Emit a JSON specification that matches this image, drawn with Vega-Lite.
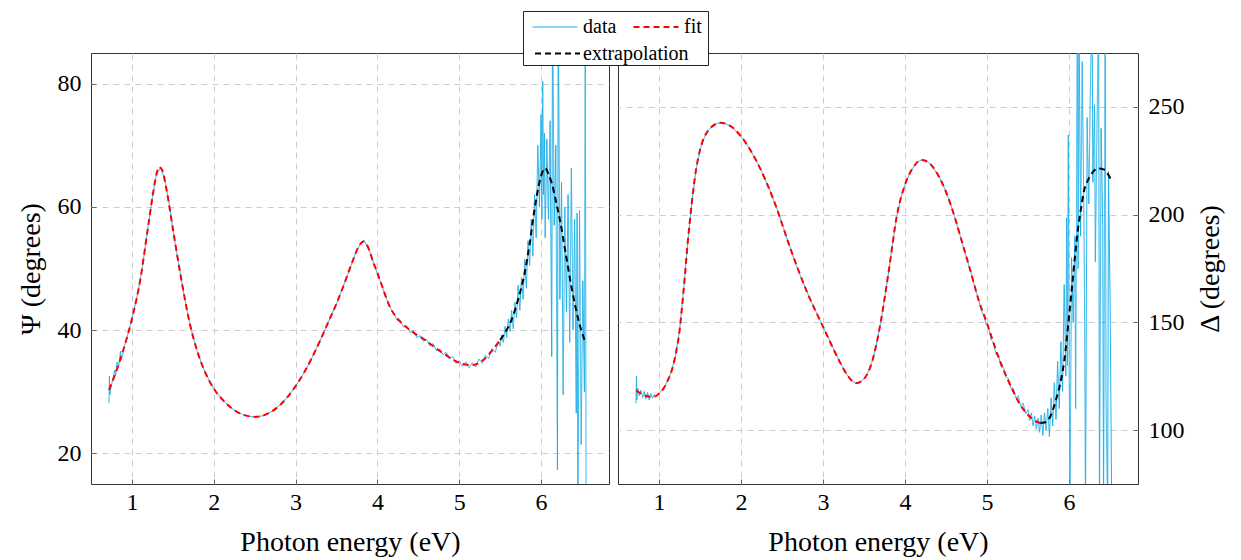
{
  "$schema": "https://vega.github.io/schema/vega-lite/v6.json",
  "padding": {"left": 16, "top": 10, "right": 10, "bottom": 5},
  "spacing": 7,
  "datasets": {
    "psi_data": [
      {"x":0.72,"y":28.1},{"x":0.725,"y":32.5},{"x":0.73,"y":29.5},{"x":0.75,"y":31.0},{"x":0.77,"y":32.3},{"x":0.79,"y":33.5},{"x":0.8,"y":32.6},{"x":0.82,"y":34.8},{"x":0.84,"y":34.2},{"x":0.86,"y":36.6},{"x":0.87,"y":35.2},{"x":0.89,"y":36.2},{"x":0.9,"y":37.0},{"x":0.95,"y":39.3},
      {"x":1.0,"y":41.8},{"x":1.05,"y":44.7},{"x":1.1,"y":48.0},{"x":1.15,"y":52.3},{"x":1.2,"y":57.0},{"x":1.25,"y":61.5},{"x":1.3,"y":65.3},{"x":1.35,"y":66.4},{"x":1.4,"y":64.5},{"x":1.45,"y":61.0},{"x":1.5,"y":56.5},{"x":1.55,"y":52.3},{"x":1.6,"y":48.5},{"x":1.65,"y":44.8},{"x":1.7,"y":41.5},{"x":1.75,"y":38.8},{"x":1.8,"y":36.5},{"x":1.85,"y":34.6},{"x":1.9,"y":33.0},{"x":1.95,"y":31.7},
      {"x":2.0,"y":30.5},{"x":2.05,"y":29.6},{"x":2.1,"y":28.8},{"x":2.15,"y":28.1},{"x":2.2,"y":27.5},{"x":2.25,"y":27.0},{"x":2.3,"y":26.6},{"x":2.35,"y":26.3},{"x":2.4,"y":26.1},{"x":2.45,"y":25.95},{"x":2.5,"y":25.9},{"x":2.55,"y":25.95},{"x":2.6,"y":26.1},{"x":2.65,"y":26.4},{"x":2.7,"y":26.7},{"x":2.75,"y":27.2},{"x":2.8,"y":27.7},{"x":2.85,"y":28.4},{"x":2.9,"y":29.1},{"x":2.95,"y":30.0},
      {"x":3.0,"y":30.9},{"x":3.05,"y":31.9},{"x":3.1,"y":33.0},{"x":3.15,"y":34.2},{"x":3.2,"y":35.5},{"x":3.25,"y":36.9},{"x":3.3,"y":38.3},{"x":3.35,"y":39.8},{"x":3.4,"y":41.3},{"x":3.45,"y":42.8},{"x":3.5,"y":44.3},{"x":3.55,"y":46.0},{"x":3.6,"y":47.7},{"x":3.65,"y":49.5},{"x":3.7,"y":51.3},{"x":3.75,"y":53.0},{"x":3.8,"y":54.2},{"x":3.83,"y":54.6},{"x":3.85,"y":54.2},{"x":3.9,"y":53.0},{"x":3.95,"y":51.0},
      {"x":4.0,"y":49.2},{"x":4.05,"y":47.4},{"x":4.1,"y":45.5},{"x":4.15,"y":43.8},{"x":4.2,"y":42.7},{"x":4.24,"y":41.6},{"x":4.28,"y":41.5},{"x":4.32,"y":40.5},{"x":4.36,"y":40.7},{"x":4.4,"y":39.6},{"x":4.44,"y":39.9},{"x":4.48,"y":38.8},{"x":4.52,"y":39.1},{"x":4.56,"y":38.2},{"x":4.6,"y":38.5},{"x":4.64,"y":37.5},{"x":4.68,"y":37.8},{"x":4.72,"y":36.7},{"x":4.76,"y":36.9},{"x":4.8,"y":36.0},{"x":4.84,"y":36.4},{"x":4.88,"y":35.3},{"x":4.92,"y":35.7},{"x":4.96,"y":34.6},
      {"x":5.0,"y":35.0},{"x":5.04,"y":34.1},{"x":5.08,"y":34.8},{"x":5.12,"y":33.9},{"x":5.16,"y":34.7},{"x":5.2,"y":34.0},{"x":5.24,"y":35.3},{"x":5.28,"y":34.6},{"x":5.32,"y":35.9},{"x":5.36,"y":35.4},{"x":5.4,"y":37.0},{"x":5.44,"y":36.4},{"x":5.48,"y":38.2},
      {"x":5.5,"y":37.4},{"x":5.52,"y":39.2},{"x":5.54,"y":38.0},{"x":5.56,"y":40.6},{"x":5.58,"y":38.8},{"x":5.6,"y":41.8},{"x":5.62,"y":39.8},{"x":5.64,"y":43.2},{"x":5.66,"y":40.2},{"x":5.68,"y":44.5},{"x":5.7,"y":42.0},{"x":5.72,"y":47.3},{"x":5.74,"y":43.2},{"x":5.76,"y":48.5},{"x":5.78,"y":45.0},{"x":5.8,"y":51.5},{"x":5.82,"y":46.8},{"x":5.84,"y":54.5},{"x":5.86,"y":50.5},{"x":5.88,"y":58.0},{"x":5.9,"y":52.0},{"x":5.92,"y":62.0},{"x":5.94,"y":55.0},{"x":5.96,"y":70.0},{"x":5.98,"y":60.0},
      {"x":6.0,"y":75.0},{"x":6.01,"y":58.0},{"x":6.02,"y":80.4},{"x":6.03,"y":62.0},{"x":6.04,"y":72.0},{"x":6.05,"y":55.0},{"x":6.07,"y":71.0},{"x":6.09,"y":58.0},{"x":6.11,"y":74.0},{"x":6.13,"y":35.7},{"x":6.14,"y":95.0},{"x":6.16,"y":57.0},{"x":6.18,"y":70.0},{"x":6.2,"y":17.3},{"x":6.21,"y":95.0},{"x":6.23,"y":45.0},{"x":6.25,"y":64.0},{"x":6.27,"y":29.5},{"x":6.29,"y":60.0},{"x":6.31,"y":43.0},{"x":6.33,"y":62.0},{"x":6.35,"y":38.0},{"x":6.37,"y":66.3},{"x":6.39,"y":40.0},{"x":6.41,"y":58.0},{"x":6.43,"y":26.5},{"x":6.44,"y":59.0},{"x":6.45,"y":10.0},{"x":6.47,"y":59.4},{"x":6.49,"y":21.4},{"x":6.51,"y":48.0},{"x":6.53,"y":30.0},{"x":6.54,"y":95.0},{"x":6.55,"y":10.0}
    ],
    "psi_fit": [
      {"x":0.72,"y":30.3},{"x":0.8,"y":33.0},{"x":0.9,"y":37.0},{"x":1.0,"y":41.8},{"x":1.1,"y":48.0},{"x":1.2,"y":57.0},{"x":1.25,"y":61.5},{"x":1.3,"y":65.3},{"x":1.33,"y":66.5},{"x":1.37,"y":66.0},{"x":1.42,"y":63.0},{"x":1.5,"y":56.5},{"x":1.6,"y":48.5},{"x":1.7,"y":41.5},{"x":1.8,"y":36.5},{"x":1.9,"y":33.0},
      {"x":2.0,"y":30.5},{"x":2.1,"y":28.8},{"x":2.2,"y":27.5},{"x":2.3,"y":26.6},{"x":2.4,"y":26.1},{"x":2.5,"y":25.9},{"x":2.6,"y":26.1},{"x":2.7,"y":26.7},{"x":2.8,"y":27.7},{"x":2.9,"y":29.1},{"x":3.0,"y":30.9},{"x":3.1,"y":33.0},{"x":3.2,"y":35.5},{"x":3.3,"y":38.3},{"x":3.4,"y":41.3},{"x":3.5,"y":44.3},{"x":3.6,"y":47.7},{"x":3.7,"y":51.3},{"x":3.78,"y":53.8},{"x":3.83,"y":54.4},{"x":3.88,"y":53.6},{"x":3.95,"y":51.0},
      {"x":4.03,"y":48.2},{"x":4.1,"y":45.5},{"x":4.17,"y":43.3},{"x":4.25,"y":41.8},{"x":4.34,"y":40.6},{"x":4.45,"y":39.5},{"x":4.58,"y":38.4},{"x":4.7,"y":37.2},{"x":4.83,"y":36.0},{"x":4.95,"y":35.0},{"x":5.07,"y":34.4},{"x":5.15,"y":34.3},{"x":5.23,"y":34.6},{"x":5.3,"y":35.2},{"x":5.39,"y":36.5},{"x":5.5,"y":38.4}
    ],
    "psi_ext": [
      {"x":5.5,"y":38.4},{"x":5.57,"y":39.8},{"x":5.64,"y":41.7},{"x":5.72,"y":45.0},{"x":5.8,"y":49.3},{"x":5.86,"y":54.0},{"x":5.92,"y":59.6},{"x":5.98,"y":64.0},{"x":6.05,"y":66.3},{"x":6.1,"y":65.0},{"x":6.13,"y":63.9},{"x":6.18,"y":61.0},{"x":6.23,"y":57.9},{"x":6.3,"y":52.5},{"x":6.37,"y":47.1},{"x":6.45,"y":42.0},{"x":6.54,"y":38.0}
    ],
    "delta_data": [
      {"x":0.72,"y":112.5},{"x":0.725,"y":125.0},{"x":0.73,"y":114.0},{"x":0.74,"y":119.5},{"x":0.76,"y":116.0},{"x":0.78,"y":118.5},{"x":0.8,"y":115.0},{"x":0.82,"y":118.0},{"x":0.84,"y":114.5},{"x":0.86,"y":117.5},{"x":0.88,"y":114.0},{"x":0.9,"y":117.0},{"x":0.92,"y":114.8},{"x":0.94,"y":116.5},{"x":0.96,"y":115.8},
      {"x":1.0,"y":117.0},{"x":1.05,"y":119.0},{"x":1.1,"y":122.5},{"x":1.15,"y":127.0},{"x":1.2,"y":134.5},{"x":1.25,"y":146.0},{"x":1.3,"y":165.0},{"x":1.35,"y":187.0},{"x":1.4,"y":205.5},{"x":1.45,"y":220.5},{"x":1.5,"y":230.0},{"x":1.55,"y":235.5},{"x":1.6,"y":239.0},{"x":1.65,"y":241.0},{"x":1.7,"y":242.2},{"x":1.75,"y":242.6},{"x":1.8,"y":242.3},{"x":1.85,"y":241.5},{"x":1.9,"y":240.3},{"x":1.95,"y":238.3},
      {"x":2.0,"y":236.3},{"x":2.05,"y":233.8},{"x":2.1,"y":230.8},{"x":2.15,"y":227.5},{"x":2.2,"y":224.0},{"x":2.25,"y":220.0},{"x":2.3,"y":215.8},{"x":2.35,"y":211.5},{"x":2.4,"y":206.5},{"x":2.45,"y":201.5},{"x":2.5,"y":196.0},{"x":2.55,"y":190.0},{"x":2.6,"y":184.5},{"x":2.65,"y":179.0},{"x":2.7,"y":174.0},{"x":2.75,"y":169.0},{"x":2.8,"y":164.5},{"x":2.85,"y":160.0},{"x":2.9,"y":156.0},{"x":2.95,"y":152.0},
      {"x":3.0,"y":148.0},{"x":3.05,"y":144.0},{"x":3.1,"y":140.0},{"x":3.15,"y":136.0},{"x":3.2,"y":132.0},{"x":3.25,"y":128.5},{"x":3.3,"y":125.3},{"x":3.35,"y":123.0},{"x":3.4,"y":121.8},{"x":3.45,"y":122.0},{"x":3.5,"y":123.8},{"x":3.55,"y":127.0},{"x":3.6,"y":132.0},{"x":3.65,"y":139.5},{"x":3.7,"y":149.5},{"x":3.75,"y":161.0},{"x":3.8,"y":173.5},{"x":3.85,"y":187.0},{"x":3.9,"y":199.5},{"x":3.95,"y":208.0},
      {"x":4.0,"y":214.0},{"x":4.05,"y":218.5},{"x":4.1,"y":222.0},{"x":4.15,"y":224.3},{"x":4.2,"y":225.4},{"x":4.25,"y":225.3},{"x":4.3,"y":223.8},{"x":4.35,"y":221.3},{"x":4.4,"y":218.5},{"x":4.45,"y":215.0},{"x":4.5,"y":210.5},{"x":4.55,"y":205.5},{"x":4.6,"y":199.5},{"x":4.65,"y":193.0},{"x":4.7,"y":186.5},{"x":4.75,"y":180.0},{"x":4.8,"y":173.5},{"x":4.85,"y":166.5},{"x":4.9,"y":160.0},
      {"x":4.93,"y":155.5},{"x":4.96,"y":153.0},{"x":4.99,"y":149.0},{"x":5.02,"y":147.5},{"x":5.05,"y":142.0},{"x":5.08,"y":140.5},{"x":5.11,"y":135.0},{"x":5.14,"y":134.5},{"x":5.17,"y":129.5},{"x":5.2,"y":129.0},{"x":5.23,"y":124.5},{"x":5.26,"y":124.0},{"x":5.29,"y":119.5},{"x":5.32,"y":119.5},{"x":5.35,"y":115.0},{"x":5.38,"y":116.0},{"x":5.41,"y":111.0},{"x":5.44,"y":112.5},{"x":5.47,"y":107.5},
      {"x":5.5,"y":109.5},{"x":5.52,"y":104.5},{"x":5.54,"y":108.0},{"x":5.56,"y":102.0},{"x":5.58,"y":106.5},{"x":5.6,"y":100.5},{"x":5.62,"y":105.5},{"x":5.64,"y":99.0},{"x":5.66,"y":107.0},{"x":5.68,"y":97.5},{"x":5.7,"y":108.0},{"x":5.72,"y":100.0},{"x":5.74,"y":110.0},{"x":5.76,"y":97.0},{"x":5.78,"y":115.0},{"x":5.8,"y":102.0},{"x":5.82,"y":122.0},{"x":5.84,"y":105.0},{"x":5.86,"y":132.0},{"x":5.88,"y":110.0},{"x":5.9,"y":141.0},{"x":5.92,"y":118.0},{"x":5.94,"y":167.5},{"x":5.96,"y":125.0},{"x":5.97,"y":198.5},{"x":5.98,"y":130.0},{"x":5.99,"y":237.0},
      {"x":6.0,"y":140.0},{"x":6.01,"y":60.0},{"x":6.03,"y":180.0},{"x":6.05,"y":150.0},{"x":6.07,"y":190.0},{"x":6.08,"y":110.0},{"x":6.1,"y":300.0},{"x":6.11,"y":175.0},{"x":6.12,"y":300.0},{"x":6.14,"y":190.0},{"x":6.16,"y":271.0},{"x":6.18,"y":200.0},{"x":6.19,"y":150.0},{"x":6.2,"y":60.0},{"x":6.22,"y":245.0},{"x":6.24,"y":205.0},{"x":6.26,"y":260.0},{"x":6.28,"y":300.0},{"x":6.29,"y":215.0},{"x":6.31,"y":251.0},{"x":6.32,"y":178.0},{"x":6.34,"y":240.0},{"x":6.36,"y":300.0},{"x":6.37,"y":60.0},{"x":6.39,"y":240.0},{"x":6.41,"y":195.0},{"x":6.42,"y":60.0},{"x":6.44,"y":300.0},{"x":6.45,"y":116.0},{"x":6.47,"y":60.0},{"x":6.48,"y":220.0},{"x":6.5,"y":160.0},{"x":6.52,"y":60.0}
    ],
    "delta_fit": [
      {"x":0.72,"y":118.5},{"x":0.8,"y":116.5},{"x":0.9,"y":115.5},{"x":0.95,"y":115.6},{"x":1.0,"y":117.0},{"x":1.05,"y":119.0},{"x":1.1,"y":122.5},{"x":1.15,"y":127.0},{"x":1.2,"y":134.5},{"x":1.25,"y":146.0},{"x":1.3,"y":165.0},{"x":1.35,"y":187.0},{"x":1.4,"y":205.5},{"x":1.45,"y":220.5},{"x":1.5,"y":230.0},{"x":1.6,"y":239.0},{"x":1.75,"y":242.6},{"x":1.9,"y":240.3},
      {"x":2.0,"y":236.3},{"x":2.2,"y":224.0},{"x":2.4,"y":206.5},{"x":2.6,"y":184.5},{"x":2.8,"y":164.5},{"x":3.0,"y":148.0},{"x":3.2,"y":132.0},{"x":3.3,"y":125.3},{"x":3.4,"y":121.8},{"x":3.5,"y":123.8},{"x":3.6,"y":132.0},{"x":3.7,"y":149.5},{"x":3.8,"y":173.5},{"x":3.9,"y":199.5},
      {"x":4.0,"y":214.0},{"x":4.1,"y":222.0},{"x":4.2,"y":225.4},{"x":4.3,"y":223.8},{"x":4.4,"y":218.5},{"x":4.5,"y":210.5},{"x":4.6,"y":199.5},{"x":4.7,"y":186.5},{"x":4.8,"y":173.5},{"x":4.9,"y":160.0},{"x":5.0,"y":149.5},{"x":5.1,"y":138.0},{"x":5.2,"y":128.0},{"x":5.3,"y":119.5},{"x":5.4,"y":112.0},{"x":5.5,"y":107.0},{"x":5.6,"y":104.0},{"x":5.65,"y":103.3}
    ],
    "delta_ext": [
      {"x":5.65,"y":103.3},{"x":5.7,"y":103.5},{"x":5.76,"y":105.6},{"x":5.84,"y":114.0},{"x":5.9,"y":123.0},{"x":5.94,"y":131.9},{"x":6.0,"y":153.0},{"x":6.03,"y":164.4},{"x":6.07,"y":180.0},{"x":6.11,"y":193.8},{"x":6.15,"y":204.0},{"x":6.18,"y":210.8},{"x":6.23,"y":216.0},{"x":6.28,"y":219.3},{"x":6.35,"y":221.4},{"x":6.42,"y":221.0},{"x":6.45,"y":220.1},{"x":6.52,"y":215.5}
    ]
  },
  "hconcat": [
    {
      "width": 518,
      "height": 431,
      "encoding": {
        "x": {"field": "x", "type": "quantitative", "scale": {"domain": [0.5, 6.83], "nice": false, "zero": false}, "axis": {"values": [1,2,3,4,5,6], "title": "Photon energy (eV)"}},
        "y": {"field": "y", "type": "quantitative", "scale": {"domain": [15, 85], "nice": false, "zero": false}, "axis": {"values": [20,40,60,80], "title": "Ψ (degrees)", "orient": "left"}}
      },
      "layer": [
        {"data": {"name": "psi_data"}, "mark": {"type": "line", "clip": true, "strokeWidth": 1},
         "encoding": {
           "color": {"datum": "data", "type": "nominal",
             "scale": {"domain": ["data","fit","extrapolation"], "range": ["#1aaee8","#ff0000","#000000"]},
             "legend": {"title": " ", "titleOrient": "bottom", "titleFontSize": 20, "titlePadding": 2, "values": ["data","fit"], "direction": "horizontal",
               "orient": "none", "legendX": 432, "legendY": -42, "padding": 6, "fillColor": "#ffffff", "strokeColor": "#222222",
               "symbolOffset": 16, "labelOffset": 18, "columnPadding": 12,
               "symbolDash": {"expr": "datum.value === 'fit' ? [6,4] : [1,0]"},
               "symbolStrokeWidth": {"expr": "datum.value === 'fit' ? 2 : 1.2"}}},
           "strokeDash": {"datum": "data", "type": "nominal",
             "scale": {"domain": ["extrapolation","data","fit"], "range": [[6,4],[1,0],[6,4]]},
             "legend": {"title": null, "values": ["extrapolation"], "direction": "horizontal",
               "orient": "none", "legendX": 438, "legendY": -12, "padding": 0,
               "symbolOffset": 16, "labelOffset": 13, "symbolStrokeWidth": 2}}
         }},
        {"data": {"name": "psi_fit"}, "mark": {"type": "line", "interpolate": "monotone", "strokeWidth": 2},
         "encoding": {
           "color": {"datum": "fit", "type": "nominal", "scale": {"domain": ["data","fit","extrapolation"]}},
           "strokeDash": {"datum": "fit", "type": "nominal", "scale": {"domain": ["extrapolation","data","fit"]}}
         }},
        {"data": {"name": "psi_ext"}, "mark": {"type": "line", "interpolate": "monotone", "strokeWidth": 2},
         "encoding": {
           "color": {"datum": "extrapolation", "type": "nominal", "scale": {"domain": ["data","fit","extrapolation"]}},
           "strokeDash": {"datum": "extrapolation", "type": "nominal", "scale": {"domain": ["extrapolation","data","fit"]}}
         }}
      ]
    },
    {
      "width": 520,
      "height": 431,
      "encoding": {
        "x": {"field": "x", "type": "quantitative", "scale": {"domain": [0.5, 6.84], "nice": false, "zero": false}, "axis": {"values": [1,2,3,4,5,6], "title": "Photon energy (eV)"}},
        "y": {"field": "y", "type": "quantitative", "scale": {"domain": [75, 275], "nice": false, "zero": false}, "axis": {"values": [100,150,200,250], "title": "Δ (degrees)", "orient": "right", "titleAngle": 270, "titleBaseline": "top"}}
      },
      "layer": [
        {"data": {"name": "delta_data"}, "mark": {"type": "line", "clip": true, "strokeWidth": 1},
         "encoding": {
           "color": {"datum": "data", "type": "nominal", "scale": {"domain": ["data","fit","extrapolation"]}},
           "strokeDash": {"datum": "data", "type": "nominal", "scale": {"domain": ["extrapolation","data","fit"]}}
         }},
        {"data": {"name": "delta_fit"}, "mark": {"type": "line", "interpolate": "monotone", "strokeWidth": 2},
         "encoding": {
           "color": {"datum": "fit", "type": "nominal", "scale": {"domain": ["data","fit","extrapolation"]}},
           "strokeDash": {"datum": "fit", "type": "nominal", "scale": {"domain": ["extrapolation","data","fit"]}}
         }},
        {"data": {"name": "delta_ext"}, "mark": {"type": "line", "interpolate": "monotone", "strokeWidth": 2},
         "encoding": {
           "color": {"datum": "extrapolation", "type": "nominal", "scale": {"domain": ["data","fit","extrapolation"]}},
           "strokeDash": {"datum": "extrapolation", "type": "nominal", "scale": {"domain": ["extrapolation","data","fit"]}}
         }}
      ]
    }
  ],
  "config": {
    "font": "Liberation Serif, DejaVu Serif, serif",
    "view": {"stroke": "#333333", "strokeWidth": 1},
    "axis": {
      "grid": true, "gridColor": "#cccccc", "gridDash": [6, 5], "gridWidth": 1,
      "domain": false, "ticks": true, "tickColor": "#666666", "tickSize": -5, "tickWidth": 1,
      "labelFont": "Liberation Serif, DejaVu Serif, serif", "labelFontSize": 24, "labelColor": "#000000", "labelPadding": 15,
      "titleFont": "Liberation Serif, DejaVu Serif, serif", "titleFontSize": 28, "titleFontWeight": "normal", "titleColor": "#000000", "titlePadding": 12
    },
    "axisX": {"labelPadding": 11, "titlePadding": 14},
    "legend": {
      "orient": "none",
      "labelFont": "Liberation Serif, DejaVu Serif, serif", "labelFontSize": 20, "labelColor": "#000000",
      "titleFont": "Liberation Serif, DejaVu Serif, serif",
      "symbolType": "M-2,0H2", "symbolSize": 506, "symbolStrokeWidth": 2, "symbolStrokeColor": "#000000"
    }
  }
}
